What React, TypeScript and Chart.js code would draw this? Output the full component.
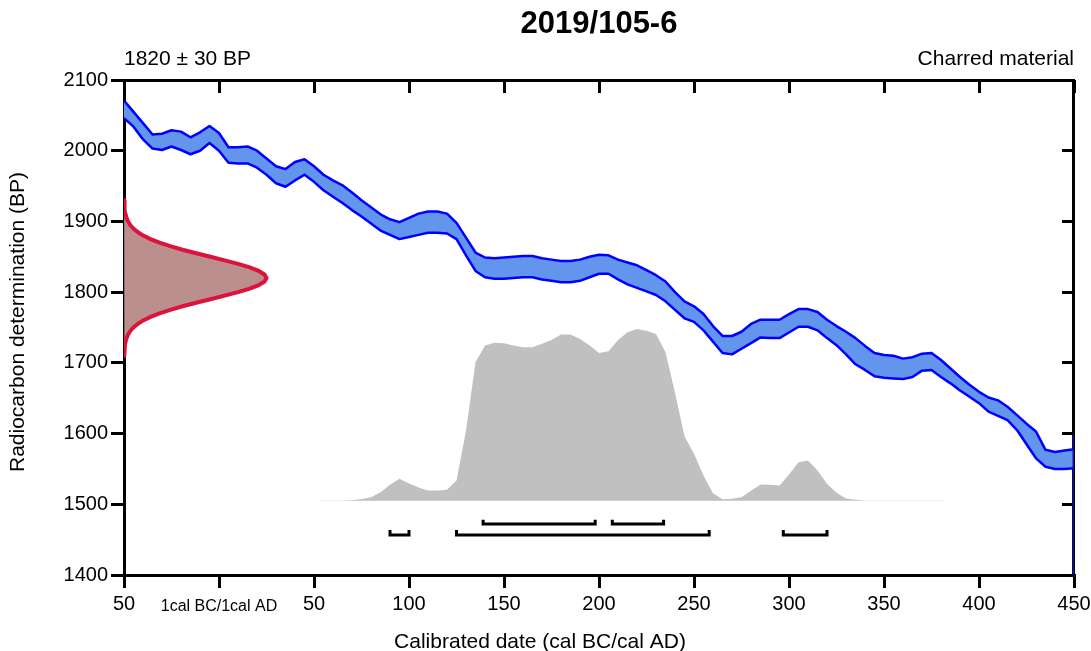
import React, { useEffect, useRef } from "react";
import { Chart, registerables } from "chart.js";

Chart.register(...registerables);

const FONT = '"Liberation Sans", Arial, sans-serif';

// ---- texts ----
const chartTitle = "2019/105-6";
const dateLabel = "1820 ± 30 BP";
const materialLabel = "Charred material";
const xTitle = "Calibrated date (cal BC/cal AD)";
const yTitle = "Radiocarbon determination (BP)";
const zeroTickLabel = "1cal BC/1cal AD";

// ---- axes ----
const xMin = -50;
const xMax = 450;
const xStep = 50;
const yMin = 1400;
const yMax = 2100;
const yStep = 100;

// ---- calibration curve (cal years, BP upper / lower 1-sigma envelope) ----
const curveYears = [
  -50, -45, -40, -35, -30, -25, -20, -15, -10, -5,
  0, 5, 10, 15, 20, 25, 30, 35, 40, 45,
  50, 55, 60, 65, 70, 75, 80, 85, 90, 95,
  100, 105, 110, 115, 120, 125, 130, 135, 140, 145,
  150, 155, 160, 165, 170, 175, 180, 185, 190, 195,
  200, 205, 210, 215, 220, 225, 230, 235, 240, 245,
  250, 255, 260, 265, 270, 275, 280, 285, 290, 295,
  300, 305, 310, 315, 320, 325, 330, 335, 340, 345,
  350, 355, 360, 365, 370, 375, 380, 385, 390, 395,
  400, 405, 410, 415, 420, 425, 430, 435, 440, 445,
  450,
];
const curveUpper = [
  2071, 2055, 2039, 2023, 2024, 2029, 2027, 2019, 2026, 2035,
  2025, 2005, 2005, 2006, 2000, 1989, 1978, 1974, 1984, 1988,
  1978, 1966, 1958, 1951, 1941, 1930, 1920, 1910, 1903, 1899,
  1905, 1911, 1914, 1914, 1911, 1898, 1877, 1856, 1849, 1848,
  1849, 1850, 1851, 1851, 1848, 1846, 1844, 1844, 1846, 1850,
  1853, 1852, 1846, 1842, 1838, 1831, 1824, 1815, 1800, 1787,
  1780, 1769, 1752, 1738, 1738, 1744, 1755, 1761, 1761, 1761,
  1769, 1776, 1776, 1772, 1761, 1752, 1744, 1735, 1724, 1714,
  1711, 1710, 1706, 1708, 1713, 1714, 1704, 1692, 1680, 1669,
  1659, 1651, 1647, 1638, 1626, 1614, 1603, 1577, 1574, 1576,
  1578,
];
const curveLower = [
  2046, 2034, 2016, 2003, 2001, 2006, 2001, 1995, 2000, 2011,
  2000, 1983, 1982, 1982, 1976, 1966, 1954, 1949, 1958, 1966,
  1956, 1944, 1935, 1926, 1916, 1907, 1897, 1887, 1881, 1875,
  1878, 1881, 1884, 1884, 1883, 1875, 1852, 1830, 1821, 1819,
  1819, 1820, 1821, 1821, 1818, 1816, 1814, 1814, 1816, 1821,
  1826, 1826, 1818, 1811, 1806, 1801, 1796, 1787, 1775, 1763,
  1758, 1746, 1730, 1714, 1712, 1720, 1728, 1736, 1735, 1735,
  1743, 1751, 1751, 1746, 1735, 1725, 1712, 1698, 1690, 1681,
  1679, 1678, 1677, 1680, 1689, 1690, 1680, 1671, 1661, 1652,
  1643, 1631, 1625, 1619, 1605, 1585, 1565, 1553, 1550, 1550,
  1551,
];
const curveEdgeBP = [1598, 1400];

// ---- measurement (normal distribution on the BP axis) ----
const measMean = 1820;
const gaussOffsets = [
  110, 105, 100, 95, 90, 85, 80, 75, 70, 65, 60, 55, 50, 45, 40, 35, 30, 25, 20, 15, 10, 5,
  0,
  -5, -10, -15, -20, -25, -30, -35, -40, -45, -50, -55, -60, -65, -70, -75, -80, -85, -90, -95, -100, -105, -110,
];
const gaussDensity = [
  0.0012, 0.0022, 0.0039, 0.0066, 0.0111, 0.0181, 0.0286, 0.0439, 0.0657, 0.0956, 0.1353, 0.1863,
  0.2494, 0.3247, 0.4111, 0.5063, 0.6065, 0.7066, 0.8007, 0.8825, 0.946, 0.9862,
  1,
  0.9862, 0.946, 0.8825, 0.8007, 0.7066, 0.6065, 0.5063, 0.4111, 0.3247, 0.2494, 0.1863, 0.1353,
  0.0956, 0.0657, 0.0439, 0.0286, 0.0181, 0.0111, 0.0066, 0.0039, 0.0022, 0.0012,
];
const gaussWidthYears = 75; // peak height drawn in x (year) units

// ---- calibrated probability (relative) ----
const probYears = [
  50, 55, 60, 65, 70, 75, 80, 85, 90, 95,
  100, 105, 110, 115, 120, 125, 130, 135, 140, 145,
  150, 155, 160, 165, 170, 175, 180, 185, 190, 195,
  200, 205, 210, 215, 220, 225, 230, 235, 240, 245,
  250, 255, 260, 265, 270, 275, 280, 285, 290, 295,
  300, 305, 310, 315, 320, 325, 330, 335, 340, 345,
  350, 355, 360, 365, 370, 375, 380, 385,
];
const probValues = [
  0, 0.001, 0.001, 0.002, 0.004, 0.009, 0.021, 0.05, 0.093, 0.128,
  0.101, 0.077, 0.06, 0.06, 0.064, 0.118, 0.407, 0.806, 0.903, 0.919,
  0.916, 0.904, 0.893, 0.893, 0.913, 0.936, 0.967, 0.967, 0.942, 0.905,
  0.86, 0.87, 0.936, 0.98, 1.0, 0.99, 0.971, 0.864, 0.628, 0.375,
  0.273, 0.147, 0.044, 0.009, 0.012, 0.021, 0.058, 0.095, 0.093, 0.089,
  0.153, 0.224, 0.234, 0.176, 0.099, 0.047, 0.013, 0.006, 0.002, 0.001,
  0.001, 0.001, 0.001, 0.001, 0.001, 0.001, 0.001, 0,
];
const probBaseBP = 1505;
const probHeightBP = 243;

// ---- highest posterior density ranges ----
const range68 = [
  [139, 198],
  [207, 234],
];
const range95 = [
  [90, 100],
  [125, 258],
  [297, 320],
];
const range68Level = [1472, 1478]; // bar, end-tick top (BP)
const range95Level = [1456.5, 1463.5];

// ---- build datasets ----
const upperPts = curveYears.map((x, i) => ({ x, y: curveUpper[i] }));
const lowerPts = curveYears.map((x, i) => ({ x, y: curveLower[i] }));
const gaussPts = gaussOffsets.map((o, i) => ({
  x: xMin + gaussDensity[i] * gaussWidthYears,
  y: measMean + o,
}));
const probPts = probYears.map((x, i) => ({ x, y: probBaseBP + probValues[i] * probHeightBP }));

function bracket(r: number[], lvl: number[]) {
  return [
    { x: r[0], y: lvl[1] },
    { x: r[0], y: lvl[0] },
    { x: r[1], y: lvl[0] },
    { x: r[1], y: lvl[1] },
  ];
}

const bracketSets = [
  ...range68.map((r) => bracket(r, range68Level)),
  ...range95.map((r) => bracket(r, range95Level)),
].map((data) => ({
  data,
  borderColor: "#000000",
  borderWidth: 3,
  borderJoinStyle: "miter" as const,
  borderCapStyle: "butt" as const,
  fill: false,
  pointRadius: 0,
}));

const framePlugin = {
  id: "oxcalFrame",
  beforeDatasetsDraw(chart: any) {
    const { ctx, chartArea, scales } = chart;
    const { left, right, top, bottom } = chartArea;
    const xs = scales.x;
    const ys = scales.y;
    ctx.save();
    ctx.strokeStyle = "#000";
    ctx.lineWidth = 3;
    ctx.lineCap = "butt";
    const ty = top + 0.5;
    const rx = right - 0.5;
    ctx.beginPath();
    ctx.moveTo(left - 1, ty);
    ctx.lineTo(rx + 1.5, ty);
    ctx.moveTo(rx, top - 1);
    ctx.lineTo(rx, bottom + 1.5);
    for (let v = xMin; v <= xMax; v += xStep) {
      const px = Math.round(xs.getPixelForValue(v) - 1.5) + 1.5;
      ctx.moveTo(px, top);
      ctx.lineTo(px, top + 13);
    }
    for (let v = yMin; v <= yMax; v += yStep) {
      const py = Math.round(ys.getPixelForValue(v) - 1.5) + 1.5;
      ctx.moveTo(right, py);
      ctx.lineTo(right - 12, py);
    }
    ctx.stroke();
    ctx.restore();
  },
  afterDraw(chart: any) {
    const { ctx, chartArea } = chart;
    const { left, right } = chartArea;
    ctx.save();
    ctx.fillStyle = "#000";
    ctx.textBaseline = "alphabetic";
    ctx.font = `bold 31px ${FONT}`;
    ctx.textAlign = "center";
    ctx.fillText(chartTitle, (left + right) / 2, 33);
    ctx.font = `21px ${FONT}`;
    ctx.textAlign = "left";
    ctx.fillText(dateLabel, left, 65);
    ctx.textAlign = "right";
    ctx.fillText(materialLabel, right, 65);
    ctx.textAlign = "center";
    ctx.fillText(xTitle, 540, 648);
    ctx.translate(24, 322);
    ctx.rotate(-Math.PI / 2);
    ctx.fillText(yTitle, 0, 0);
    ctx.restore();
  },
};

export default function App() {
  const ref = useRef<HTMLCanvasElement>(null);
  useEffect(() => {
    if (!ref.current) return;
    Chart.defaults.font.family = FONT;
    const chart = new Chart(ref.current, {
      type: "line",
      data: {
        datasets: [
          {
            data: curveEdgeBP.map((y) => ({ x: xMax, y })),
            borderColor: "#14149a",
            borderWidth: 3,
            fill: false,
            pointRadius: 0,
          },
          {
            data: upperPts,
            borderColor: "#0000ff",
            borderWidth: 2.5,
            borderJoinStyle: "round",
            fill: false,
            pointRadius: 0,
          },
          {
            data: lowerPts,
            borderColor: "#0000ff",
            backgroundColor: "#6495ed",
            borderWidth: 2.5,
            borderJoinStyle: "round",
            fill: "-1",
            pointRadius: 0,
          },
          {
            data: gaussPts,
            borderColor: "#dc143c",
            backgroundColor: "#bc8f8f",
            borderWidth: 4,
            borderJoinStyle: "round",
            fill: "shape",
            pointRadius: 0,
          },
          {
            data: probPts,
            borderColor: "transparent",
            backgroundColor: "#c0c0c0",
            borderWidth: 0,
            fill: { value: probBaseBP },
            pointRadius: 0,
          },
          ...bracketSets,
        ] as any,
      },
      options: {
        animation: false,
        responsive: false,
        maintainAspectRatio: false,
        devicePixelRatio: 1,
        layout: { padding: { top: 80, right: 17, bottom: 0, left: 0 } },
        plugins: {
          legend: { display: false },
          tooltip: { enabled: false },
          title: { display: false },
        },
        elements: { point: { radius: 0 }, line: { tension: 0 } },
        scales: {
          x: {
            type: "linear",
            min: xMin,
            max: xMax,
            afterFit: (s: any) => {
              s.height = 76;
              s.paddingLeft = 0;
              s.paddingRight = 0;
            },
            ticks: {
              stepSize: xStep,
              autoSkip: false,
              maxRotation: 0,
              minRotation: 0,
              padding: 4,
              color: "#000",
              font: (c: any) =>
                c.tick && c.tick.value === 0
                  ? { size: 16, lineHeight: 1.8, family: FONT }
                  : { size: 20, lineHeight: 1.2, family: FONT },
              callback: (value: any) => {
                const v = Number(value);
                if (v === 0) return zeroTickLabel;
                return String(Math.abs(v));
              },
            },
            grid: {
              drawOnChartArea: false,
              drawTicks: true,
              tickLength: 13,
              tickWidth: 3,
              tickColor: "#000",
              color: "#000",
              lineWidth: 3,
            },
            border: { display: true, color: "#000", width: 3 },
          },
          y: {
            type: "linear",
            min: yMin,
            max: yMax,
            afterFit: (s: any) => {
              s.width = 124;
              s.paddingTop = 0;
              s.paddingBottom = 0;
            },
            ticks: {
              stepSize: yStep,
              autoSkip: false,
              padding: 3,
              color: "#000",
              font: { size: 20, family: FONT },
              callback: (value: any) => String(Number(value)),
            },
            grid: {
              drawOnChartArea: false,
              drawTicks: true,
              tickLength: 13,
              tickWidth: 3,
              tickColor: "#000",
              color: "#000",
              lineWidth: 3,
            },
            border: { display: true, color: "#000", width: 3 },
          },
        },
      } as any,
      plugins: [framePlugin],
    });
    return () => chart.destroy();
  }, []);
  return (
    <div style={{ position: "absolute", left: 0, top: 0, width: 1091, height: 651, background: "#fff" }}>
      <canvas ref={ref} width={1091} height={651} style={{ display: "block" }} />
    </div>
  );
}
